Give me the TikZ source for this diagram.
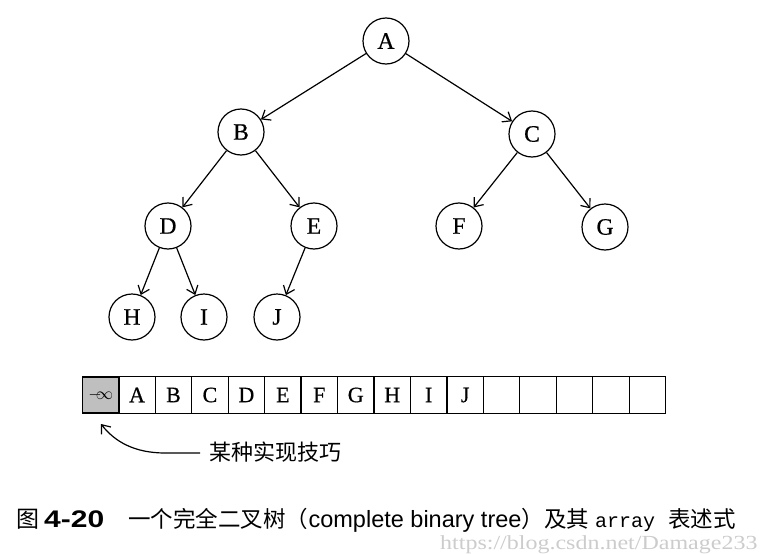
\documentclass[tikz,border=0pt]{standalone}
\usepackage{fontspec}
\usepackage{graphicx}
\setmainfont{Liberation Serif}
\newfontfamily\treefont[FakeBold=0.6]{Liberation Serif}
\newfontfamily\cjk{Noto Sans CJK SC}
\newfontfamily\capsans{Liberation Sans}
\newfontfamily\capmono{Liberation Mono}
\usetikzlibrary{arrows.meta}
\newcommand{\minf}{\fontsize{17}{17}\selectfont$-\!\!\infty$}
\begin{document}
\begin{tikzpicture}[x=1pt,y=-1pt,
  tnode/.style={circle,draw,line width=1.2pt,minimum size=46pt,inner sep=0pt,font=\treefont\fontsize{23.5}{23.5}\selectfont},
  edge/.style={line width=1.2pt,-{Straight Barb[length=7.5pt,width=12pt,line width=1.2pt]}},
  cell/.style={draw,line width=1.2pt,minimum width=36.46pt,minimum height=36.5pt,inner sep=0pt,anchor=west,font=\treefont\fontsize{22}{22}\selectfont},
  captxt/.style={anchor=base west,inner sep=0pt},
]
\useasboundingbox (0,0) rectangle (761,554);
% tree
\node[tnode] (A) at (386,41) {A};
\node[tnode] (B) at (241,132) {B};
\node[tnode] (C) at (532,134) {C};
\node[tnode] (D) at (168,226) {D};
\node[tnode] (E) at (314,226) {E};
\node[tnode] (F) at (459,226) {F};
\node[tnode] (G) at (605,227) {G};
\node[tnode] (H) at (132,317) {H};
\node[tnode] (I) at (204,317) {I};
\node[tnode] (J) at (277,317) {J};
\draw[edge] (A) -- (B);
\draw[edge] (A) -- (C);
\draw[edge] (B) -- (D);
\draw[edge] (B) -- (E);
\draw[edge] (C) -- (F);
\draw[edge] (C) -- (G);
\draw[edge] (D) -- (H);
\draw[edge] (D) -- (I);
\draw[edge] (E) -- (J);
% array
\node[cell,fill=black!25,line width=1.6pt] (c0) at (81.7,395) {\minf};
\foreach \i/\t in {1/A,2/B,3/C,4/D,5/E,6/F,7/G,8/H,9/I,10/J}
  \node[cell] (c\i) at ({81.7+36.46*\i},395) {\t};
\foreach \i in {11,...,15}
  \node[cell] (c\i) at ({81.7+36.46*\i},395) {};
% note
\node[anchor=west,inner sep=0pt,font=\cjk\fontsize{22}{22}\selectfont] (note) at (209,452) {某种实现技巧};
\coordinate (start) at (200,453);
\coordinate (tip) at (101,424);
\draw[edge] (start) -- (165,453) .. controls (135,453) and (115,442) .. (tip);
% watermark
\node[captxt,text=black!20,font=\fontsize{20}{20}\selectfont] (wm) at (440,549) {\scalebox{1.2}[1]{https://blog.csdn.net/Damage233}};
% caption
\node[captxt,font=\cjk\fontsize{23}{23}\selectfont] (capA) at (16,527) {图};
\node[captxt,font=\capsans\bfseries\fontsize{24}{24}\selectfont] (capB) at (44,527) {\scalebox{1.25}[1]{4-20}};
\node[captxt,font=\cjk\fontsize{22.5}{22.5}\selectfont] (capC) at (128,527) {一个完全二叉树（};
\node[captxt,font=\capsans\fontsize{23.5}{23.5}\selectfont] (capD) at (capC.base east) {complete binary tree};
\node[captxt,font=\cjk\fontsize{22.5}{22.5}\selectfont] (capE) at (capD.base east) {）及其};
\node[captxt,font=\capmono\fontsize{20}{20}\selectfont] (capF) at (595,527) {array};
\node[captxt,font=\cjk\fontsize{22.5}{22.5}\selectfont] (capG) at (668,527) {表述式};
\end{tikzpicture}
\end{document}
